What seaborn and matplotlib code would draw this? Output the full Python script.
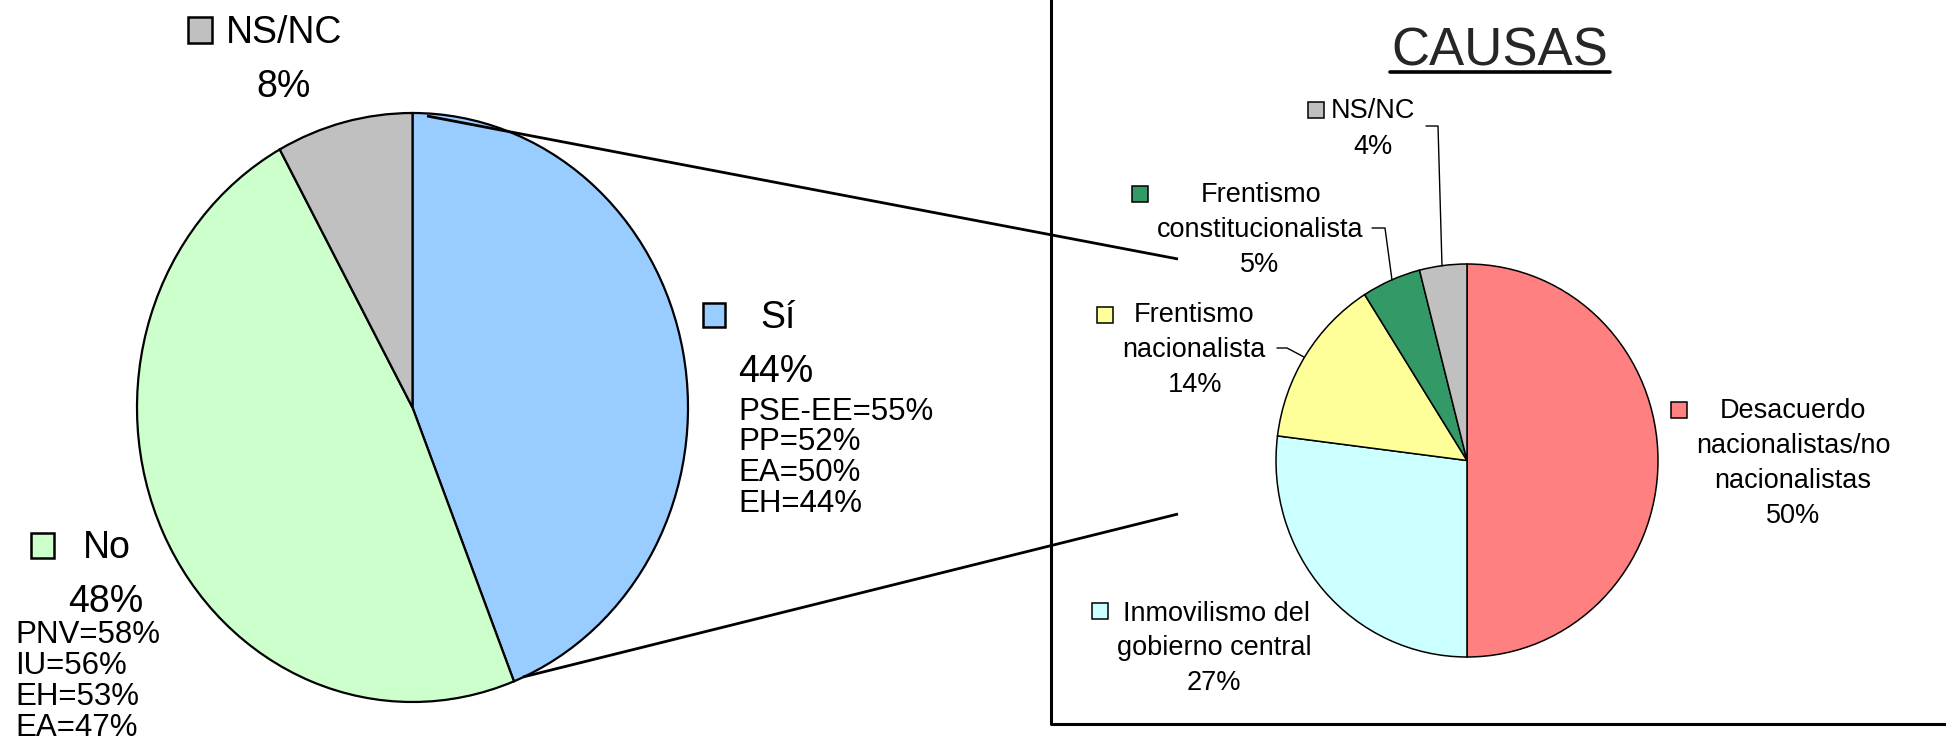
import matplotlib
matplotlib.use("Agg")
import matplotlib.pyplot as plt
from matplotlib.patches import Rectangle
import seaborn as sns

# datos
respuesta = ["Sí", "No", "NS/NC"]
respuesta_pct = [44, 48, 8]
si_partidos = ["PSE-EE=55%", "PP=52%", "EA=50%", "EH=44%"]
no_partidos = ["PNV=58%", "IU=56%", "EH=53%", "EA=47%"]
causas = [["Desacuerdo", "nacionalistas/no", "nacionalistas"],
          ["Inmovilismo del", "gobierno central"],
          ["Frentismo", "nacionalista"],
          ["Frentismo", "constitucionalista"],
          ["NS/NC"]]
causas_pct = [50, 27, 14, 5, 4]

sns.set_style("white")
plt.rcParams["font.family"] = ["Liberation Sans", "DejaVu Sans"]

resp_colors = sns.color_palette(["#99CCFF", "#CCFFCC", "#C0C0C0"])
causa_colors = sns.color_palette(["#FF8080", "#CCFFFF", "#FFFF99", "#339966", "#C0C0C0"])

W, H = 1946, 738
fig = plt.figure(figsize=(W / 100, H / 100), dpi=100)


def draw_pie(box, values, colors, lw):
    x0, y0, x1, y1 = box
    pa = fig.add_axes([x0 / W, 1 - y1 / H, (x1 - x0) / W, (y1 - y0) / H])
    wedges, _ = pa.pie(values, colors=colors, startangle=90, counterclock=False,
                       radius=1, wedgeprops=dict(edgecolor="black", linewidth=lw))
    for w in wedges:
        w.set_clip_on(False)
    pa.set_xlim(-1, 1)
    pa.set_ylim(-1, 1)
    pa.set_aspect("auto")
    pa.axis("off")


draw_pie((137, 113, 688, 702), respuesta_pct, resp_colors, 1.6)
draw_pie((1276, 264, 1658, 657), causas_pct, causa_colors, 1.1)

# overlay in pixel coords
ax = fig.add_axes([0, 0, 1, 1])
ax.set_xlim(0, W)
ax.set_ylim(H, 0)
ax.axis("off")


def key(x, y, w, h, color, lw=1.4):
    ax.add_patch(Rectangle((x, y), w, h, facecolor=color, edgecolor="black", linewidth=lw))


def put(x, y, s, size, ha="left"):
    ax.text(x, y, s, fontsize=size, ha=ha, va="baseline", color="black")


# left pie labels
big, small = 27, 22.5
key(188, 17, 24, 26, resp_colors[2], 1.8)
put(226, 43, respuesta[2], big)
put(284, 97, f"{respuesta_pct[2]}%", big, "center")

key(703, 303, 22, 24, resp_colors[0], 1.8)
put(760, 328, respuesta[0], big)
put(738, 382, f"{respuesta_pct[0]}%", big)
for i, s in enumerate(si_partidos):
    put(738, 420 + i * 30.5, s, small)

key(31, 533, 23, 25, resp_colors[1], 1.8)
put(83, 558, respuesta[1], big)
put(106, 612, f"{respuesta_pct[1]}%", big, "center")
for i, s in enumerate(no_partidos):
    put(15, 643 + i * 31, s, small)

# series lines
ax.plot([427, 1178], [116, 259], color="black", lw=2.0, solid_capstyle="butt")
ax.plot([523, 1178], [677, 514], color="black", lw=2.0, solid_capstyle="butt")

# box around causas
ax.plot([1051, 1051, W + 5], [-5, 724, 724], color="black", lw=2.2)

ax.text(1500, 65, "CAUSAS", fontsize=38, ha="center", va="baseline")
ax.plot([1390, 1610], [71.5, 71.5], color="black", lw=2.6)

# causas labels
fs = 19.5
sq = 16
# Desacuerdo
key(1671, 402, sq, sq, causa_colors[0], 1.1)
for i, s in enumerate(causas[0]):
    put(1793, 418 + i * 35, s, fs, "center")
put(1793, 523, f"{causas_pct[0]}%", fs, "center")
# Inmovilismo
key(1092, 603, sq, sq, causa_colors[1], 1.1)
put(1123, 621, causas[1][0], fs)
put(1214, 655, causas[1][1], fs, "center")
put(1214, 690, f"{causas_pct[1]}%", fs, "center")
# Frentismo nacionalista
key(1097, 307, sq, sq, causa_colors[2], 1.1)
put(1194, 322, causas[2][0], fs, "center")
put(1194, 357, causas[2][1], fs, "center")
put(1195, 392, f"{causas_pct[2]}%", fs, "center")
ax.plot([1277, 1287, 1304], [348, 348, 357], color="black", lw=1.0)
# Frentismo constitucionalista
key(1132, 186, sq, sq, causa_colors[3], 1.1)
put(1261, 202, causas[3][0], fs, "center")
put(1260, 237, causas[3][1], fs, "center")
put(1260, 272, f"{causas_pct[3]}%", fs, "center")
ax.plot([1372, 1385, 1392], [228, 228, 280], color="black", lw=1.0)
# NS/NC
key(1308, 102, sq, sq, causa_colors[4], 1.1)
put(1331, 118, causas[4][0], fs)
put(1373, 154, f"{causas_pct[4]}%", fs, "center")
ax.plot([1426, 1438, 1442], [126, 126, 266], color="black", lw=1.0)

fig.savefig("out.png", dpi=100, facecolor="white")
